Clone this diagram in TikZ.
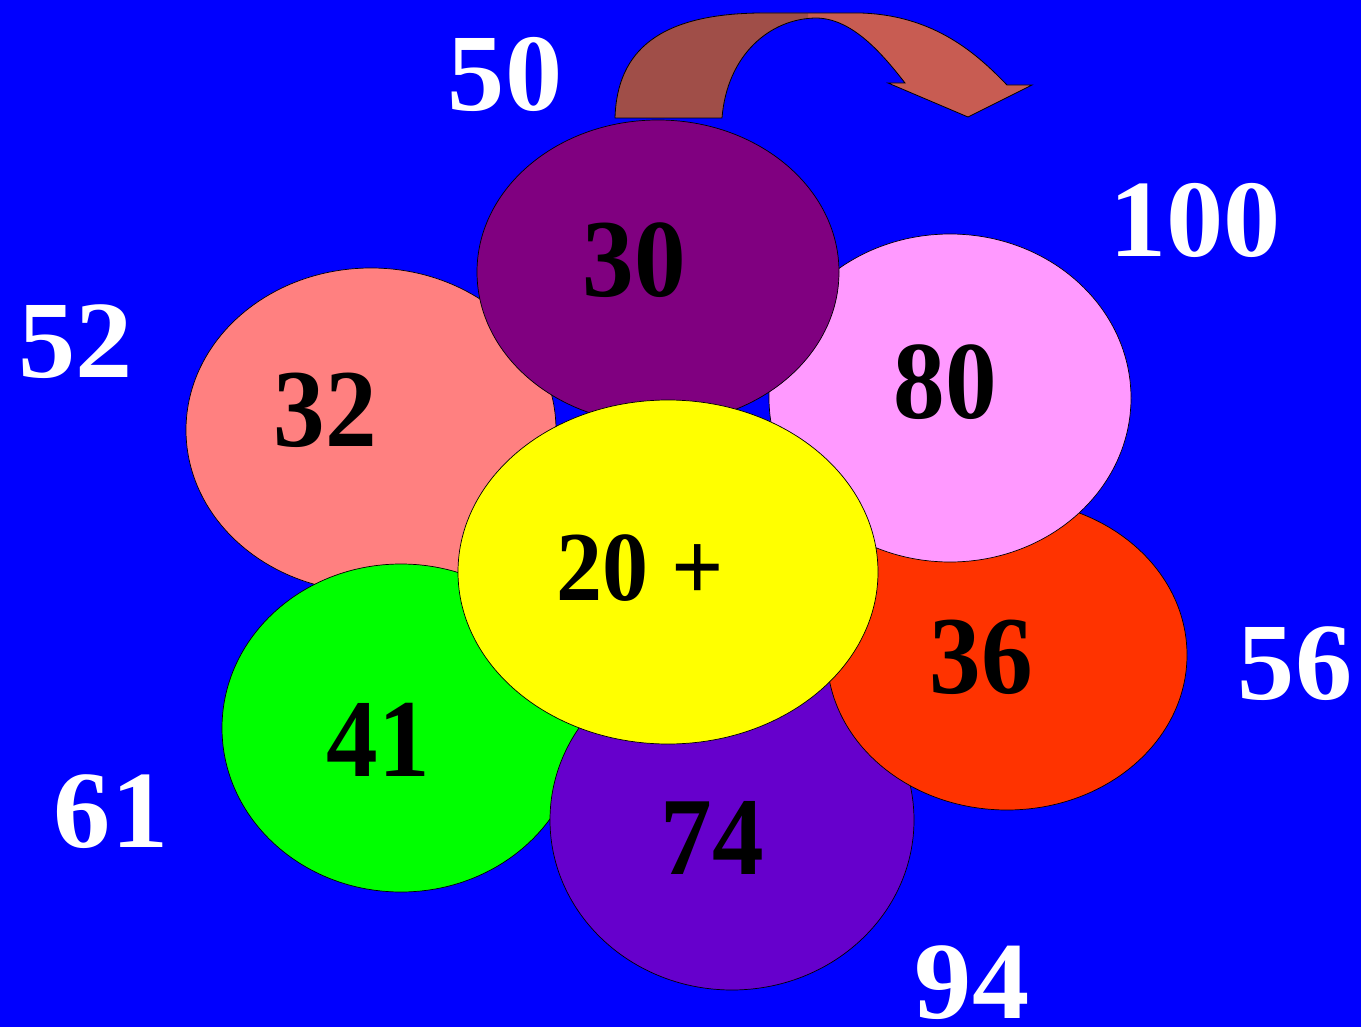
\documentclass[tikz,border=0pt]{standalone}
\usepackage{fontspec}
\setmainfont{Liberation Serif}
\usetikzlibrary{shapes.geometric}
\definecolor{bgblue}{HTML}{0000FF}
\definecolor{cPurple}{HTML}{800080}
\definecolor{cSalmon}{HTML}{FF8080}
\definecolor{cPink}{HTML}{FF99FF}
\definecolor{cYellow}{HTML}{FFFF00}
\definecolor{cOrange}{HTML}{FF3300}
\definecolor{cGreen}{HTML}{00FF00}
\definecolor{cViolet}{HTML}{6600CC}
\definecolor{arrDark}{HTML}{A04E48}
\definecolor{arrLight}{HTML}{C85C52}
\tikzset{
  blob/.style={ellipse, draw=black, line width=0.7pt, inner sep=0pt},
  outnum/.style={text=white, inner sep=0pt, xscale=1.04, font=\fontsize{110}{110}\selectfont\bfseries},
  innum/.style={text=black, inner sep=0pt, xscale=0.93, font=\fontsize{111}{111}\selectfont\bfseries},
  ctrnum/.style={text=black, inner sep=0pt, xscale=0.93, font=\fontsize{99}{99}\selectfont\bfseries}
}
\begin{document}
\begin{tikzpicture}[x=1pt,y=-1pt]
\fill[bgblue] (0,0) rectangle (1361,1027);
\useasboundingbox (0,0) rectangle (1361,1027);
% curved arrow
\def\arrowpath{(615,118) .. controls (617,50) and (660,14) .. (760,13)
  -- (860,13) .. controls (935,15) and (978,55) .. (1007,85)
  -- (1032,85) -- (968,117) -- (888,83) -- (905,83)
  .. controls (878,48) and (850,19) .. (817,18)
  .. controls (770,18) and (727,55) .. (722,118) -- cycle}
\fill[arrLight] \arrowpath;
\begin{scope}
\clip (600,0) rectangle (808,130);
\fill[arrDark] \arrowpath;
\end{scope}
\draw[black, line width=0.8pt] \arrowpath;
% petals (back to front)
\node[blob, fill=cSalmon, minimum width=370pt, minimum height=324pt] (e32) at (371,430) {};
\node[blob, fill=cGreen, minimum width=358pt, minimum height=328pt] (e41) at (401,728) {};
\node[blob, fill=cViolet, minimum width=364pt, minimum height=340pt] (e74) at (732,820) {};
\node[blob, fill=cOrange, minimum width=360pt, minimum height=310pt] (e36) at (1007,655) {};
\node[blob, fill=cPink, minimum width=362pt, minimum height=328pt] (e80) at (950,398) {};
\node[blob, fill=cPurple, minimum width=362pt, minimum height=304pt] (e30) at (658,272) {};
\node[blob, fill=cYellow, minimum width=420pt, minimum height=344pt] (e20) at (668,572) {};
% inner numbers
\node[innum] (t30) at (634,260) {30};
\node[innum] (t32) at (325,410) {32};
\node[innum] (t80) at (945,382) {80};
\node[innum] (t36) at (981,657) {36};
\node[innum] (t41) at (378,740) {41};
\node[innum] (t74) at (712,838) {74};
\node[ctrnum] (t20) at (640,568) {20 +};
% outer numbers
\node[outnum] (o50) at (505,74) {50};
\node[outnum] (o100) at (1195,220) {100};
\node[outnum] (o52) at (76,342) {52};
\node[outnum] (o56) at (1295,664) {56};
\node[outnum] (o61) at (111,812) {61};
\node[outnum] (o94) at (972,983) {94};
\end{tikzpicture}
\end{document}
